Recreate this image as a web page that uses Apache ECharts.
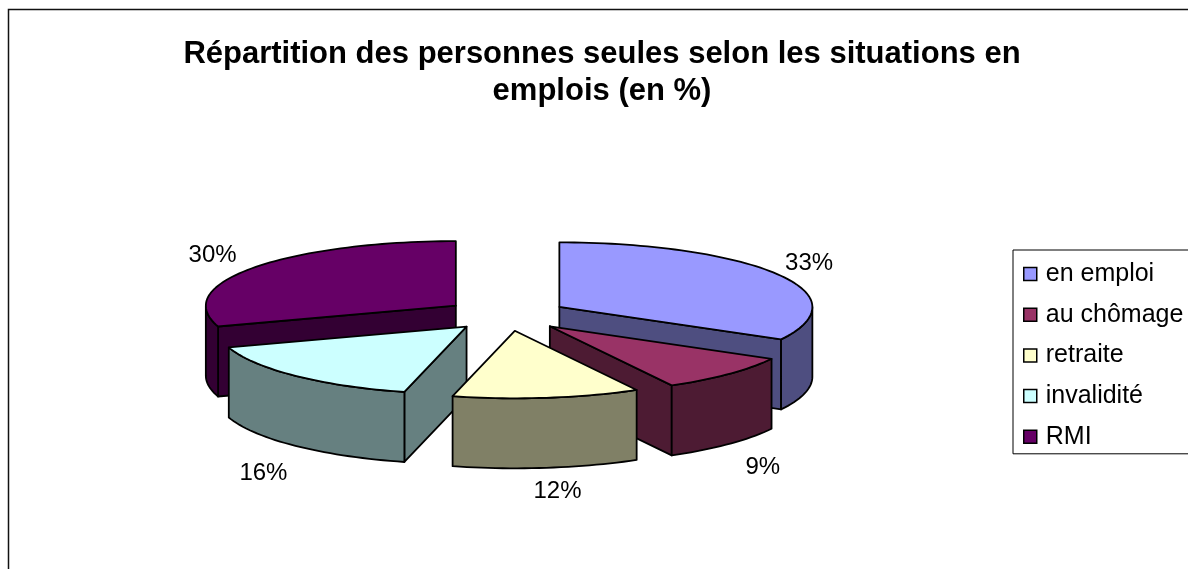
<!DOCTYPE html>
<html><head><meta charset="utf-8">
<style>html,body{margin:0;padding:0;background:#fff;overflow:hidden}#c{width:1188px;height:569px}</style>
<script src="https://cdn.jsdelivr.net/npm/echarts@6/dist/echarts.min.js"></script>
</head><body><div id="c"></div>
<script>
const categories = ['en emploi', 'au chômage', 'retraite', 'invalidité', 'RMI'];
const values = [33, 9, 12, 16, 30];
const titleLines = ['Répartition des personnes seules selon les situations en', 'emplois (en %)'];
const topColors = ['#9999FF', '#993366', '#FFFFCC', '#CCFFFF', '#660066'];
const sideColors = ['#4E4E80', '#4D1B33', '#808066', '#668080', '#330033'];
const FONT = '"Liberation Sans", Arial, sans-serif';

// projection of the tilted, exploded pie (nearer and left parts differ slightly, as in a perspective view)
const CX = 506, CY = 315, RX_RIGHT = 253, RX_LEFT = 250, RY_BACK = 64.5, RY_FRONT = 67.5, EXPLODE = 62, DEPTH = 70, RATIO = 0.257;
const total = values.reduce((a, b) => a + b, 0);
const TAU = Math.PI * 2;
const starts = values.map((_, i) => values.slice(0, i).reduce((a, b) => a + b, 0) / total * TAU);
const pt = (ax, ay, t) => {
  const s = Math.sin(t), c = Math.cos(t);
  return [ax + (s >= 0 ? RX_RIGHT : RX_LEFT) * s, ay - (c >= 0 ? RY_BACK : RY_FRONT) * c];
};
const arc = (ax, ay, a, b, dy) => {
  const n = Math.max(2, Math.ceil((b - a) / 0.03)), out = [];
  for (let k = 0; k <= n; k++) {
    const p = pt(ax, ay, a + (b - a) * k / n);
    out.push([p[0], p[1] + dy]);
  }
  return out;
};
const apexNudge = [0, 0, 1, 3, 0];
const labelShift = [[32, -11], [34, 23], [11, 23.5], [-32, 28], [-41, -12]];

function renderSlice(i, api) {
  const a = starts[i], b = a + api.value(0) / total * TAU, mid = (a + b) / 2;
  const ax = CX + EXPLODE * Math.sin(mid) + apexNudge[i], ay = CY - EXPLODE * RATIO * Math.cos(mid);
  const stroke = { stroke: '#000', lineWidth: 1.8, lineJoin: 'round' };
  const children = [];
  const poly = (points, fill) => children.push({ type: 'polygon', shape: { points }, style: { fill, ...stroke } });
  const cutFace = t => {
    const p = pt(ax, ay, t);
    poly([[ax, ay], p, [p[0], p[1] + DEPTH], [ax, ay + DEPTH]], sideColors[i]);
  };
  if (Math.sin(b) > 1e-6) cutFace(b);
  if (Math.sin(a) < -1e-6) cutFace(a);
  const w0 = Math.max(a, Math.PI / 2), w1 = Math.min(b, Math.PI * 1.5);
  if (w1 > w0) {
    const topEdge = arc(ax, ay, w0, w1, 0), botEdge = arc(ax, ay, w0, w1, DEPTH).reverse();
    poly(topEdge.concat(botEdge), sideColors[i]);
  }
  poly([[ax, ay]].concat(arc(ax, ay, a, b, 0)), topColors[i]);
  const base = pt(ax, ay, mid), front = Math.cos(mid) < 0 ? DEPTH : 0;
  children.push({
    type: 'text', z2: 10,
    style: {
      text: api.value(0) + '%', x: base[0] + labelShift[i][0], y: base[1] + front + labelShift[i][1],
      align: 'center', verticalAlign: 'middle', fill: '#000', font: '24px ' + FONT
    }
  });
  return { type: 'group', children };
}

const chart = echarts.init(document.getElementById('c'), null, { renderer: 'canvas' });
chart.setOption({
  animation: false,
  backgroundColor: '#fff',
  title: {
    text: titleLines.join('\n'), left: 597, top: 31, textAlign: 'center',
    textStyle: { fontFamily: FONT, fontWeight: 'bold', fontSize: 31, lineHeight: 37, color: '#000' }
  },
  legend: {
    orient: 'vertical', left: 1013, top: 250, padding: [10, 30, 3, 10],
    borderColor: '#000', borderWidth: 1, backgroundColor: '#fff',
    itemWidth: 13, itemHeight: 13, itemGap: 12.7, icon: 'rect',
    selectedMode: false,
    textStyle: { fontFamily: FONT, fontSize: 25, color: '#000', padding: [0, 0, 0, 4], lineHeight: 28 },
    data: categories.map((name, i) => ({ name, itemStyle: { color: topColors[i], borderColor: '#000', borderWidth: 1.5 } }))
  },
  graphic: [{
    type: 'rect', shape: { x: 8.5, y: 9.5, width: 1400, height: 800 }, silent: true, z: -1,
    style: { fill: 'none', stroke: '#111', lineWidth: 1.5 }
  }],
  series: categories.map((name, i) => ({
    type: 'custom', name, coordinateSystem: 'none', clip: false,
    z: 2 + [...values.keys()].sort((p, q) =>
      -Math.cos(starts[p] + values[p] / total * Math.PI) + Math.cos(starts[q] + values[q] / total * Math.PI)).indexOf(i),
    itemStyle: { color: topColors[i] },
    data: [[values[i]]],
    renderItem: (params, api) => renderSlice(i, api)
  }))
});
</script></body></html>
